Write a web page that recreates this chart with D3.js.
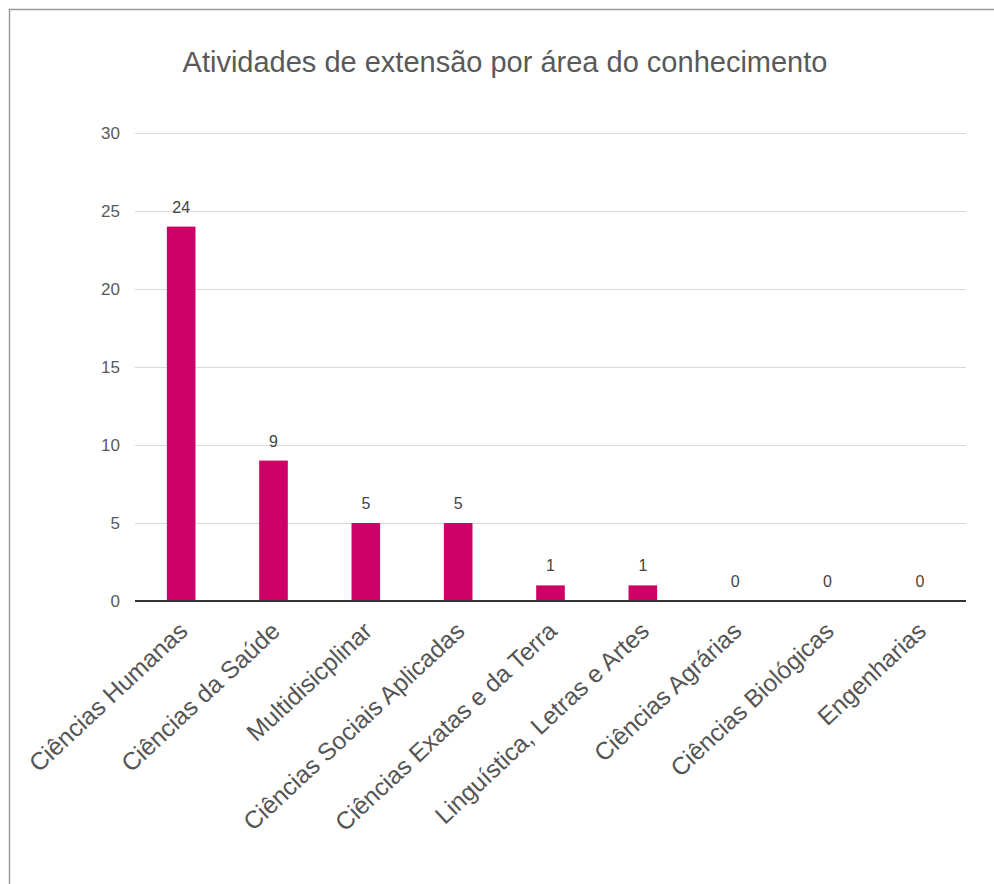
<!DOCTYPE html>
<html>
<head>
<meta charset="utf-8">
<script src="https://cdn.jsdelivr.net/npm/d3@7"></script>
<style>
    body { margin: 0; background: #ffffff; }
    svg { display: block; font-family: "Liberation Sans", Arial, sans-serif; }
</style>
</head>
<body>
<svg id="svg"></svg>
<script>

// chart data
let categories = [
    "Ciências Humanas",
    "Ciências da Saúde",
    "Multidisicplinar",
    "Ciências Sociais Aplicadas",
    "Ciências Exatas e da Terra",
    "Linguística, Letras e Artes",
    "Ciências Agrárias",
    "Ciências Biológicas",
    "Engenharias"
];
let values = [24, 9, 5, 5, 1, 1, 0, 0, 0];
let yTicks = [0, 5, 10, 15, 20, 25, 30];
let chartTitle = "Atividades de extensão por área do conhecimento";

const width = 994;
const height = 884;

let svg = d3.select("#svg")
    .attr("width", width)
    .attr("height", height);

// frame round the chart (only top and left sides are visible)
svg.append("rect")
    .attr("x", 9.5)
    .attr("y", 9.5)
    .attr("width", 1000)
    .attr("height", 900)
    .attr("fill", "none")
    .attr("stroke", "#9a9a9a")
    .attr("stroke-width", 1.5);

const plot = { left: 135, right: 966, top: 133, bottom: 601 };

let xScale = d3.scaleBand()
    .domain(categories)
    .range([plot.left, plot.right])
    .paddingInner(0.69)
    .paddingOuter(0.345);

let yScale = d3.scaleLinear()
    .domain([0, 30])
    .range([plot.bottom, plot.top]);

// gridlines + y tick labels
let yAxis = d3.axisLeft(yScale)
    .tickValues(yTicks)
    .tickSize(-(plot.right - plot.left))
    .tickPadding(15);

let yAxisG = svg.append("g")
    .attr("transform", `translate(${plot.left},0)`)
    .call(yAxis);

yAxisG.select(".domain").remove();
yAxisG.selectAll(".tick line")
    .attr("stroke", "#d9d9d9")
    .attr("stroke-width", 1);
yAxisG.selectAll(".tick text")
    .attr("fill", "#5a5a5a")
    .style("font-size", "17px")
    .style("font-family", "'Liberation Sans', Arial, sans-serif");

// bars
svg.selectAll(".bar")
    .data(values)
    .enter().append("rect")
    .attr("class", "bar")
    .attr("x", (d, i) => xScale(categories[i]))
    .attr("y", d => yScale(d))
    .attr("width", xScale.bandwidth())
    .attr("height", d => yScale(0) - yScale(d))
    .attr("fill", "#cc0066");

// value labels above bars
svg.selectAll(".value-label")
    .data(values)
    .enter().append("text")
    .attr("class", "value-label")
    .attr("x", (d, i) => xScale(categories[i]) + xScale.bandwidth() / 2)
    .attr("y", d => yScale(d) - 14)
    .attr("text-anchor", "middle")
    .attr("fill", "#444444")
    .style("font-size", "16px")
    .text(d => d);

// x axis baseline and rotated category labels
let xAxis = d3.axisBottom(xScale)
    .tickSize(0)
    .tickPadding(0);

let xAxisG = svg.append("g")
    .attr("transform", `translate(0,${plot.bottom})`)
    .call(xAxis);

xAxisG.select(".domain")
    .attr("d", `M${plot.left},0H${plot.right}`)
    .attr("stroke", "#333333")
    .attr("stroke-width", 2);

xAxisG.selectAll(".tick text")
    .attr("text-anchor", "end")
    .attr("dy", 0)
    .attr("transform", "translate(8,32) rotate(-43)")
    .attr("fill", "#555555")
    .style("font-size", "24.5px")
    .style("font-family", "'Liberation Sans', Arial, sans-serif");

// title
svg.append("text")
    .attr("id", "chart-title")
    .attr("x", 505)
    .attr("y", 72)
    .attr("text-anchor", "middle")
    .attr("fill", "#595959")
    .style("font-size", "29px")
    .text(chartTitle);

</script>
</body>
</html>
